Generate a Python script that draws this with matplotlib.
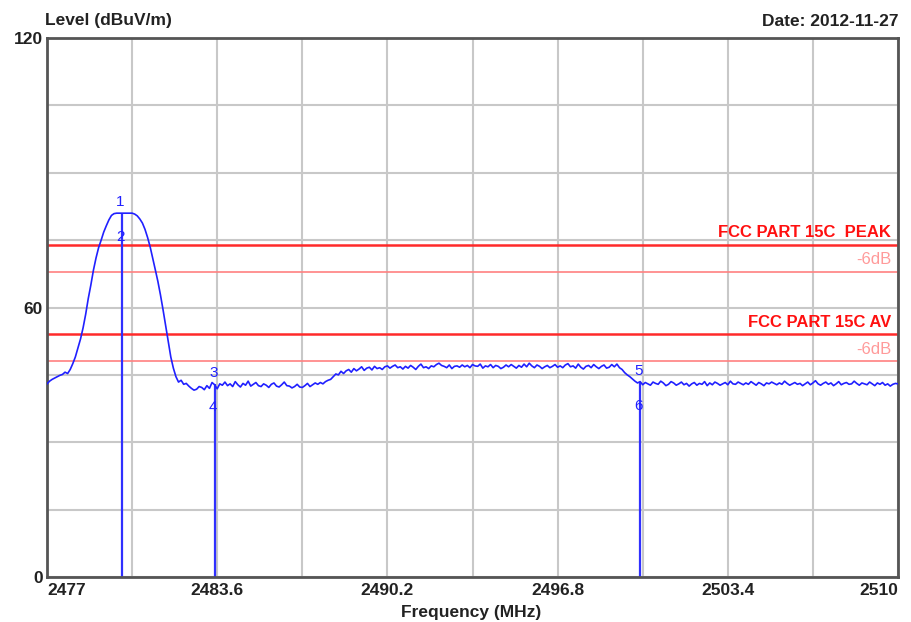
import numpy as np
import matplotlib
matplotlib.use("Agg")
from matplotlib import pyplot as plt

plt.rcParams['font.family'] = ['Liberation Sans', 'DejaVu Sans']

# sweep, 2477 .. 2510 MHz in 0.1 MHz steps (level in dBuV/m)
level = [
    43.0, 43.6, 44.0, 44.3, 44.6, 44.9, 45.1, 45.6, 45.3, 46.2,
    47.5, 49.0, 51.0, 53.0, 55.5, 58.5, 62.0, 65.0, 68.3, 71.0,
    73.3, 75.0, 76.8, 78.2, 79.5, 80.5, 80.9, 81.0, 81.0, 81.0,
    81.0, 81.0, 81.0, 81.0, 80.8, 80.4, 79.7, 78.8, 77.4, 75.6,
    73.5, 71.0, 68.4, 65.8, 62.8, 59.5, 56.0, 52.5, 49.0, 46.5,
    44.6, 43.4, 43.8, 42.9, 43.1, 42.5, 42.0, 41.6, 41.8, 42.4,
    42.2, 41.7, 42.6, 42.0, 43.3, 42.8, 41.9, 43.0, 42.7, 43.4,
    42.6, 43.0, 42.4, 43.5, 42.8, 42.3, 43.1, 42.7, 43.6, 42.5,
    42.9, 43.3, 42.6, 42.4, 43.0, 42.7, 42.2, 42.9, 43.2, 42.5,
    42.3, 42.8, 43.4, 42.6, 42.5, 42.1, 42.4, 42.9, 42.3, 42.2,
    42.6, 43.1, 42.4, 42.8, 43.2, 42.9, 43.3, 43.0, 43.5, 43.8,
    44.0, 44.6, 45.2, 45.0, 45.8, 45.3, 45.9, 46.2, 45.6, 46.4,
    45.9, 46.3, 46.8, 46.0, 46.5, 46.7, 46.1, 46.9, 46.4, 46.6,
    46.2, 46.8, 47.0, 46.5, 46.9, 47.2, 46.6, 46.8, 46.3, 46.9,
    46.5, 47.1, 46.7, 46.2, 46.9, 47.4, 46.6, 46.8, 46.4, 47.0,
    46.8, 47.3, 47.6, 47.1, 46.9, 46.6, 47.2, 46.4, 46.9, 47.0,
    46.7, 47.2, 46.8, 47.1, 46.6, 47.3, 47.0, 46.9, 47.4, 46.5,
    47.0, 46.8, 47.3, 46.6, 47.1, 46.9, 46.4, 46.7, 47.2, 46.8,
    47.3, 46.9, 46.5, 47.1, 46.7, 47.4, 46.8, 47.6, 47.0, 46.6,
    47.2, 46.9, 46.4, 46.8, 47.1, 46.6, 46.9, 47.3, 46.7, 47.0,
    46.6, 47.2, 47.5, 46.8, 47.0, 46.5, 47.4, 46.7, 46.3, 46.9,
    47.1, 46.6, 47.3, 46.8, 46.4, 46.9, 47.2, 46.5, 46.7, 47.3,
    46.8, 47.4, 46.6, 46.2, 45.5, 45.0, 44.6, 44.1, 43.6, 43.2,
    43.5, 42.8, 43.3, 43.0, 42.7, 43.4, 43.1, 42.9, 43.6, 43.2,
    42.6, 42.9, 43.5, 43.2, 42.7, 43.0, 43.4, 42.8, 43.1, 42.5,
    43.0, 43.3, 42.7, 43.1, 42.9, 43.5, 42.6, 43.2, 42.8, 43.4,
    43.1, 42.7, 43.0, 43.3, 42.8, 43.6, 43.0, 42.9, 43.4, 43.1,
    42.8, 43.2, 42.9, 43.5, 43.1, 42.7, 43.3, 43.0, 42.6, 43.2,
    43.0, 43.4, 43.1, 42.8, 43.2, 42.9, 43.6, 43.1, 42.7, 43.0,
    43.3, 42.9, 43.1, 42.6, 43.0, 43.4, 42.8, 43.2, 43.7, 43.0,
    42.7, 43.1, 43.4, 42.9, 43.2, 42.6, 43.0, 43.5, 42.8, 43.1,
    43.3, 42.9, 43.0, 43.6, 43.1, 42.7, 43.2, 43.0, 42.8, 43.4,
    43.0, 42.6, 43.2, 42.9, 43.3, 42.7, 43.0, 42.5, 42.9, 43.1,
    43.0,
]
f_start, f_stop = 2477.0, 2510.0
freq = np.linspace(f_start, f_stop, len(level))

# markers
marker_freq = [2479.9, 2483.5, 2500.0]
marker_level = [81.0, 43.0, 43.4]
marker_top_label = ['1', '3', '5']
marker_bottom_label = ['2', '4', '6']

# limit lines
limit_names = ['FCC PART 15C  PEAK', 'FCC PART 15C AV']
limit_values = [74, 54]
margin_db = 6

x_ticks = [2477, 2483.6, 2490.2, 2496.8, 2503.4, 2510]
y_ticks = [0, 60, 120]

fig = plt.figure(figsize=(9.11, 6.22), dpi=100)
ax = fig.add_axes([47/911, 45/622, 851/911, 539/622])

# grid
for gx in np.linspace(f_start, f_stop, 11):
    ax.axvline(gx, color='#c8c8c8', lw=1.5, zorder=0)
for gy in np.arange(0, 121, 15):
    ax.axhline(gy, color='#c8c8c8', lw=1.5, zorder=0)

# limits
for name, val in zip(limit_names, limit_values):
    ax.axhline(val, color='#ff2a2a', lw=1.8, zorder=1)
    ax.axhline(val - margin_db, color='#ff8080', lw=1.2, zorder=1)
    ax.text(0.992, val + 1.0, name, transform=ax.get_yaxis_transform(),
            ha='right', va='bottom', color='#ff1010', fontsize=12,
            fontweight='bold')
    ax.text(0.992, val - margin_db + 1.0, '-6dB', transform=ax.get_yaxis_transform(),
            ha='right', va='bottom', color='#ff9a9a', fontsize=12)

# trace
ax.plot(freq, level, color='#2020ff', lw=1.2, zorder=3)

# markers
for mf, ml, t1, t2 in zip(marker_freq, marker_level, marker_top_label, marker_bottom_label):
    ax.vlines(mf, 0, ml, color='#3030ff', lw=1.6, zorder=2)
    ax.annotate(t1, (mf, ml), xytext=(-1, 3), textcoords='offset points',
                ha='center', va='bottom', color='#2020ff', fontsize=11)
    ax.annotate(t2, (mf, ml), xytext=(-1, -17), textcoords='offset points',
                ha='center', va='center', color='#2020ff', fontsize=11)

ax.set_xlim(f_start, f_stop)
ax.set_ylim(0, 120)
ax.set_xticks(x_ticks)
ax.set_xticklabels([f'{t:g}' for t in x_ticks])
ax.set_yticks(y_ticks)
ax.tick_params(length=0, labelsize=12.5, pad=4)
for lab in ax.get_xticklabels() + ax.get_yticklabels():
    lab.set_fontweight('bold')
    lab.set_color('#222222')
xl = ax.get_xticklabels()
xl[0].set_ha('left')
xl[-1].set_ha('right')
ax.tick_params(axis='y', pad=3)

for sp in ax.spines.values():
    sp.set_color('#555555')
    sp.set_linewidth(2)

fig.text(45/911, 1 - 20/622, 'Level (dBuV/m)', ha='left', va='center',
         fontsize=12.5, fontweight='bold', color='#222222')
fig.text(898/911, 1 - 22/622, 'Date: 2012-11-27', ha='right', va='center',
         fontsize=12.5, fontweight='bold', color='#222222')
fig.text(471/911, 1 - 613/622, 'Frequency (MHz)', ha='center', va='center',
         fontsize=12.5, fontweight='bold', color='#222222')

fig.savefig('out.png', dpi=100)
